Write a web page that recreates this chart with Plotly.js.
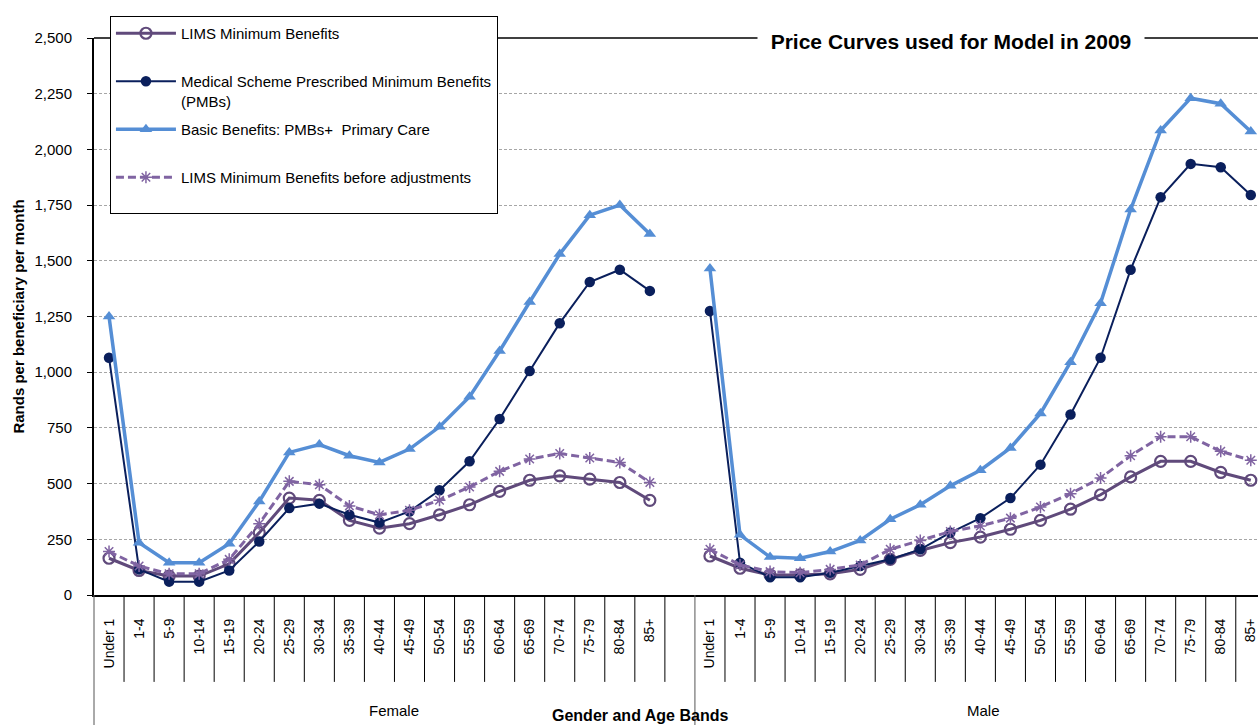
<!DOCTYPE html>
<html>
<head>
<meta charset="utf-8">
<script src="https://cdn.plot.ly/plotly-3.0.1.min.js"></script>
<style>
  html, body { margin: 0; padding: 0; background: #ffffff; }
  #chart { width: 1258px; height: 725px; }
</style>
</head>
<body>
<div id="chart"></div>
<script>
// ---- Data ----
const ageBands = ["Under 1","1-4","5-9","10-14","15-19","20-24","25-29","30-34","35-39","40-44","45-49","50-54","55-59","60-64","65-69","70-74","75-79","80-84","85+"];
const genders = ["Female", "Male"];

const limsMinFemale    = [165,110,85,85,140,280,435,425,335,300,320,360,405,465,515,535,520,505,425];
const pmbFemale        = [1065,115,60,60,110,240,390,410,360,325,375,470,600,790,1005,1220,1405,1460,1365];
const basicFemale      = [1250,235,145,145,230,420,640,675,625,595,655,755,890,1095,1315,1530,1705,1750,1620];
const limsBeforeFemale = [195,130,95,95,160,320,510,495,400,360,380,425,485,555,610,635,615,595,505];

const limsMinMale    = [175,120,90,90,95,115,160,200,235,260,295,335,385,450,530,600,600,550,515];
const pmbMale        = [1275,145,80,80,100,130,160,205,280,345,435,585,810,1065,1460,1785,1935,1920,1795];
const basicMale      = [1465,270,170,165,195,245,340,405,490,560,660,815,1045,1310,1730,2085,2230,2205,2080];
const limsBeforeMale = [205,135,105,100,115,135,205,245,285,310,345,395,455,525,625,710,710,645,605];

// legend labels; single-line items get an empty second line so that spacing matches the reference
const seriesNames = [
  "LIMS Minimum Benefits<br>&nbsp;",
  "Medical Scheme Prescribed Minimum Benefits<br>(PMBs)",
  "Basic Benefits: PMBs+  Primary Care<br>&nbsp;",
  "LIMS Minimum Benefits before adjustments<br>&nbsp;"
];

// ---- Layout helpers ----
const nBands = ageBands.length;          // 19
const groupSlots = nBands + 1;           // 19 bands + one blank slot per gender
const xIdx = [];
const xTickText = [];
genders.forEach((g, gi) => {
  ageBands.forEach((b, bi) => { xIdx.push(gi * groupSlots + bi); xTickText.push(b); });
});
const femaleX = ageBands.map((_, i) => i);
const maleX = ageBands.map((_, i) => groupSlots + i);

function xy(f, m) {
  return { x: [...femaleX, nBands, ...maleX], y: [...f, null, ...m] };
}

const xRange = [-0.5, 38.24];
const FONT = "Liberation Sans, Arial, sans-serif";

const traces = [
  Object.assign(xy(limsMinFemale, limsMinMale), {
    name: seriesNames[0], legendgroup: "a", type: "scatter", mode: "lines+markers", connectgaps: false,
    line: { color: "#604A7B", width: 3 },
    marker: { symbol: "circle-open", size: 11, color: "#604A7B", line: { width: 2.2, color: "#604A7B" } }
  }),
  Object.assign(xy(pmbFemale, pmbMale), {
    name: seriesNames[1], legendgroup: "b", type: "scatter", mode: "lines+markers", connectgaps: false,
    line: { color: "#0A1F5C", width: 2 },
    marker: { symbol: "circle", size: 10.5, color: "#0A1F5C" }
  }),
  Object.assign(xy(basicFemale, basicMale), {
    name: seriesNames[2], legendgroup: "c", type: "scatter", mode: "lines+markers", connectgaps: false,
    line: { color: "#558ED5", width: 3.5 },
    marker: { symbol: "triangle-up", size: 11, color: "#558ED5" }
  }),
  Object.assign(xy(limsBeforeFemale, limsBeforeMale), {
    name: seriesNames[3], legendgroup: "d", type: "scatter", mode: "lines+markers", connectgaps: false,
    line: { color: "#8064A2", width: 3, dash: "8px,4px" },
    marker: { symbol: "asterisk-open", size: 10, color: "#8064A2", line: { width: 1.5, color: "#8064A2" } }
  })
];

// divider lines under the category axis (paper coords derived from the axis range)
const span = xRange[1] - xRange[0];
const toPaper = v => (v - xRange[0]) / span;
const shapes = [];
for (let k = 0; k <= 2 * groupSlots; k++) {
  const v = k - 0.5;
  const px = toPaper(v);
  if (px < -0.001 || px > 1.001) continue;
  const isGroup = (k % groupSlots === 0);
  shapes.push({
    type: "line", xref: "paper", yref: "paper",
    x0: px, x1: px, y0: 0, y1: isGroup ? -0.24 : -0.156,
    line: { color: isGroup ? "#555555" : "#000000", width: 1 }
  });
}
// top border of plot area
shapes.push({ type: "line", xref: "paper", yref: "paper", x0: 0, x1: 1, y0: 1, y1: 1,
  line: { color: "#000000", width: 1.5 } });

const layout = {
  width: 1258, height: 725,
  margin: { l: 94, r: 0, t: 38, b: 130, pad: 0 },
  paper_bgcolor: "#ffffff", plot_bgcolor: "#ffffff",
  font: { family: FONT, color: "#000000", size: 14 },
  showlegend: true,
  legend: {
    x: 0.0137, y: 1.0395, xanchor: "left", yanchor: "top",
    bgcolor: "#ffffff", bordercolor: "#000000", borderwidth: 1,
    font: { family: FONT, size: 15, color: "#000000" },
    traceorder: "grouped", tracegroupgap: 6, itemwidth: 60, valign: "top"
  },
  xaxis: {
    type: "linear", range: xRange, fixedrange: true,
    tickmode: "array", tickvals: xIdx, ticktext: xTickText,
    tickangle: -90, ticks: "", ticklabelstandoff: 16, ticklabeloverflow: "allow",
    tickfont: { family: FONT, size: 14, color: "#000000" },
    showgrid: false, zeroline: false,
    showline: true, linecolor: "#000000", linewidth: 2
  },
  yaxis: {
    range: [0, 2500], dtick: 250, tick0: 0, tickformat: ",d",
    ticks: "outside", ticklen: 5, tickcolor: "#000000", tickwidth: 1,
    ticklabelstandoff: 12,
    tickfont: { family: FONT, size: 15, color: "#000000" },
    showgrid: true, gridcolor: "#A6A6A6", gridwidth: 1, griddash: "3px,2px",
    zeroline: false, showline: true, linecolor: "#000000", linewidth: 2,
    title: { text: "<b>Rands per beneficiary per month</b>", standoff: 6,
      font: { family: FONT, size: 15, color: "#000000" } }
  },
  shapes: shapes,
  annotations: [
    { text: "<b>&nbsp;&nbsp;Price Curves used for Model in 2009&nbsp;&nbsp;</b>", xref: "paper", yref: "paper",
      x: (951 - 94) / 1164, y: 0.993, xanchor: "center", yanchor: "middle", showarrow: false,
      bgcolor: "#ffffff", font: { family: FONT, size: 21, color: "#000000" } },
    { text: genders[0], xref: "paper", yref: "paper", x: toPaper(9.5), y: -0.208,
      xanchor: "center", yanchor: "middle", showarrow: false, font: { family: FONT, size: 15 } },
    { text: genders[1], xref: "paper", yref: "paper", x: (983 - 94) / 1164, y: -0.208,
      xanchor: "center", yanchor: "middle", showarrow: false, font: { family: FONT, size: 15 } },
    { text: "<b>Gender and Age Bands</b>", xref: "paper", yref: "paper", x: (640 - 94) / 1164, y: -0.2155,
      xanchor: "center", yanchor: "middle", showarrow: false, font: { family: FONT, size: 16 } }
  ]
};

Plotly.newPlot("chart", traces, layout, { staticPlot: true, displayModeBar: false });
</script>
</body>
</html>
